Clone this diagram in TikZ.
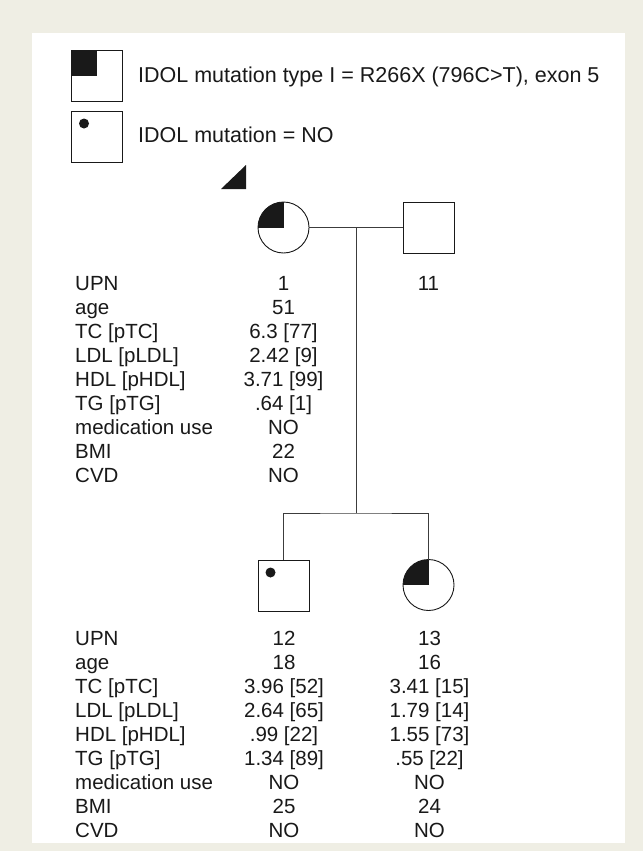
\documentclass[tikz,border=0pt]{standalone}
\usepackage{fontspec}
\setmainfont{Liberation Sans}
\usepackage{tikz}
\usetikzlibrary{positioning,calc}
\definecolor{cframe}{RGB}{239,238,228}
\definecolor{cink}{RGB}{25,25,25}
\tikzset{
  indiv/.style={draw=cink,line width=0.9pt,minimum size=51pt,inner sep=0pt,outer sep=0pt},
  male/.style={indiv,rectangle},
  female/.style={indiv,circle},
  carrier/.style={path picture={\fill[cink] (path picture bounding box.center) rectangle (path picture bounding box.north west);}},
  nomut/.style={path picture={\fill[cink] ([xshift=12.5pt,yshift=-12.5pt]path picture bounding box.north west) circle (5pt);}},
  link/.style={draw=cink!85,line width=0.9pt},
  txt/.style={inner sep=0pt,text=cink,font=\fontsize{20.5}{24}\selectfont},
  leg/.style={inner sep=0pt,text=cink,font=\fontsize{21.5}{26}\selectfont,anchor=base west}
}
\begin{document}
\begin{tikzpicture}[x=1pt,y=-1pt]
  % frame
  \fill[cframe] (0,0) rectangle (643,851);
  \useasboundingbox (0,0) rectangle (643,851);
  \fill[white] (32,33) rectangle (625,843);

  % legend
  \node[male,carrier] (key1) at (97,76) {};
  \node[male,nomut] (key2) at (97,136.5) {};
  \node[leg] (keytxt1) at (138,82.7) {IDOL mutation type I = R266X (796C>T), exon 5};
  \node[leg] (keytxt2) at (138,142.5) {IDOL mutation = NO};

  % pedigree
  \fill[cink] (221,189) -- (246,189) -- (246,165) -- cycle;
  \node[female,carrier] (mother) at (283.5,227.5) {};
  \node[male] (father) at (428.5,227.5) {};
  \node[male,nomut] (son) at (283.5,585.5) {};
  \node[female,carrier] (daughter) at (428.5,585) {};

  \coordinate (mate) at ($(mother.east)!0.5!(father.west)$);
  \coordinate (sibs) at (356,513);
  \draw[link] (mother.east) -- (father.west);
  \draw[link] (mate) -- (sibs);
  \draw[link] (son.north) |- (sibs) -| (daughter.north);

  % data tables
  \foreach \lab [count=\i from 0] in {UPN,age,TC [pTC],LDL [pLDL],HDL [pHDL],TG [pTG],medication use,BMI,CVD}{
    \node[txt,anchor=base west] (labA\i) at (75,290+24*\i) {\lab};
    \node[txt,anchor=base west] (labB\i) at (75,645+24*\i) {\lab};
  }
  \foreach \v [count=\i from 0] in {1,51,6.3 [77],2.42 [9],3.71 [99],.64 [1],NO,22,NO}
    \node[txt,anchor=base] (valM\i) at (283.5,290+24*\i) {\v};
  \node[txt,anchor=base] (valF0) at (428.5,290) {11};
  \foreach \v [count=\i from 0] in {12,18,3.96 [52],2.64 [65],.99 [22],1.34 [89],NO,25,NO}
    \node[txt,anchor=base] (valS\i) at (284,645+24*\i) {\v};
  \foreach \v [count=\i from 0] in {13,16,3.41 [15],1.79 [14],1.55 [73],.55 [22],NO,24,NO}
    \node[txt,anchor=base] (valD\i) at (429.5,645+24*\i) {\v};
\end{tikzpicture}
\end{document}
